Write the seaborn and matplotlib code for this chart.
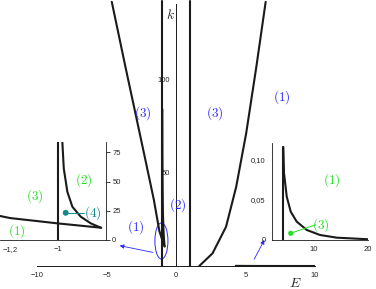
import matplotlib
matplotlib.use("Agg")
import matplotlib.pyplot as plt
from matplotlib.patches import Ellipse
import seaborn as sns

# branches of the curve k(E)
left_E = [-4.62, -3.64, -2.92, -2.2, -1.59, -1.2, -1.0, -0.82]
left_k = [141.3, 106.6, 81.7, 56.7, 35.3, 18.8, 14.2, 10.5]

steep_E = [-0.982, -0.976, -0.961, -0.940, -0.905, -0.863, -0.821]
steep_k = [83.9, 61.2, 41.2, 28.4, 19.9, 14.2, 10.5]

right_E = [1.67, 2.63, 3.6, 4.33, 5.05, 5.78, 6.45]
right_k = [0, 6.8, 21, 42.4, 71.1, 106.6, 141.3]

tail_E = [4.3, 4.43, 4.93, 5.67, 6.78, 8.64, 11.1, 14.2, 20]
tail_k = [0.1159, 0.0834, 0.0541, 0.0354, 0.0229, 0.0125, 0.00625, 0.0029, 0.0009]

vert_E = [-1, 1]
vert_top = 142
tail_vert_E = 4.3

# marked points
pt4_E, pt4_k = -0.968, 23.3
pt3_E, pt3_k = 5.67, 0.0084

BLUE = "#2a2aff"
GREEN = "#22e022"
TEAL = "#108a8a"

sns.set_theme(style="white")
plt.rcParams["font.family"] = ["Liberation Sans", "DejaVu Sans"]
plt.rcParams["mathtext.fontset"] = "cm"


def curve(ax, x, y, **kw):
    sns.lineplot(x=x, y=y, sort=False, estimator=None, color="k", lw=1.5, ax=ax, **kw)


def style_ticks(a):
    a.tick_params(which="both", direction="out", labelsize=5.5, width=0.6, color="k", pad=1.5)
    a.tick_params(which="major", length=3)
    a.tick_params(which="minor", length=2)
    a.set_xlabel("")
    a.set_ylabel("")


fig = plt.figure(figsize=(3.76, 2.89), dpi=100)

# ---- main axes
ax = fig.add_axes([0.0984, 0.073, 0.7394, 0.927])
ax.set_facecolor("none")
ax.set_xlim(-10, 10)
ax.set_ylim(-1, 142.3)
for s in ["top", "right"]:
    ax.spines[s].set_visible(False)
ax.spines["left"].set_position(("data", 0))
ax.spines["bottom"].set_position(("data", 0))
ax.spines["left"].set_bounds(0, 140)
for s in ["left", "bottom"]:
    ax.spines[s].set_linewidth(0.7)
    ax.spines[s].set_color("k")

curve(ax, left_E, left_k)
curve(ax, steep_E, steep_k)
curve(ax, right_E, right_k)
curve(ax, tail_E, tail_k)
for e in vert_E:
    curve(ax, [e, e], [0, vert_top])

ax.set_xticks([-10, -5, 0, 5, 10])
ax.set_xticklabels(["\u221210", "\u22125", "0", "5", "10"])
ax.set_xticks([-7.5, -2.5, 2.5, 7.5], minor=True)
ax.set_yticks([50, 100])
ax.set_yticks([v for v in range(10, 141, 10) if v not in (50, 100)], minor=True)
style_ticks(ax)

labels_main = [("(1)", 7.59, 90.5), ("(3)", 2.8, 81.6), ("(3)", -2.37, 81.6),
               ("(1)", -2.92, 21), ("(2)", 0.1, 32.6)]
for t, x, y in labels_main:
    ax.text(x, y, "$" + t + "$", color=BLUE, fontsize=9.5, ha="center", va="center")

ax.add_patch(Ellipse((-1.05, 13.4), 0.94, 19.3, fill=False, ec=BLUE, lw=0.7))
arrow = dict(arrowstyle="-|>", color=BLUE, lw=0.6, mutation_scale=6)
ax.annotate("", xy=(-4.25, 11.2), xytext=(-1.47, 7), arrowprops=arrow)
ax.annotate("", xy=(6.45, 15.3), xytext=(5.53, 2.3), arrowprops=arrow)

fig.text(170 / 376, 1 - 15 / 289, "$k$", fontsize=10, ha="center", va="center")
fig.text(295 / 376, 6 / 289, "$E$", fontsize=10, ha="center", va="center")

# ---- left inset
axl = fig.add_axes([0.0, 0.1696, 0.2819, 0.3391])
axl.set_facecolor("none")
axl.set_xlim(-1.242, -0.8)
axl.set_ylim(0, 84)
for s in ["top", "left"]:
    axl.spines[s].set_visible(False)
for s in ["right", "bottom"]:
    axl.spines[s].set_linewidth(0.6)
    axl.spines[s].set_color("k")
curve(axl, left_E, left_k)
curve(axl, steep_E, steep_k)
curve(axl, [-1, -1], [0, vert_top])
axl.plot([pt4_E, -0.89], [pt4_k, pt4_k], color=TEAL, lw=0.7)
sns.scatterplot(x=[pt4_E], y=[pt4_k], color=TEAL, s=18, edgecolor="none", ax=axl)
axl.text(-0.855, 23.3, "$(4)$", color=TEAL, fontsize=9.5, ha="center", va="center")
for t, x, y in [("(2)", -0.893, 51), ("(3)", -1.095, 37.5), ("(1)", -1.17, 7.7)]:
    axl.text(x, y, "$" + t + "$", color=GREEN, fontsize=9.5, ha="center", va="center")
axl.yaxis.tick_right()
axl.set_yticks([0, 25, 50, 75])
axl.set_yticklabels(["0", "25", "50", "75"])
axl.set_xticks([-1.2, -1.0])
axl.set_xticklabels(["\u22121,2", "\u22121"])
axl.set_xticks([-1.1, -0.9], minor=True)
style_ticks(axl)

# ---- right inset
axr = fig.add_axes([0.7234, 0.1696, 0.2553, 0.3356])
axr.set_facecolor("none")
axr.set_xlim(2.2, 20)
axr.set_ylim(0, 0.121)
for s in ["top", "right"]:
    axr.spines[s].set_visible(False)
for s in ["left", "bottom"]:
    axr.spines[s].set_linewidth(0.6)
    axr.spines[s].set_color("k")
curve(axr, tail_E, tail_k)
curve(axr, [tail_vert_E, tail_vert_E], [0, tail_k[0]])
axr.plot([pt3_E, 10.3], [pt3_k, 0.019], color=GREEN, lw=0.7)
sns.scatterplot(x=[pt3_E], y=[pt3_k], color=GREEN, s=14, edgecolor="none", ax=axr)
axr.text(11.3, 0.019, "$(3)$", color=GREEN, fontsize=9.5, ha="center", va="center")
axr.text(13.2, 0.075, "$(1)$", color=GREEN, fontsize=9.5, ha="center", va="center")
axr.set_yticks([0, 0.05, 0.10])
axr.set_yticklabels(["0", "0,05", "0,10"])
axr.set_yticks([0.025, 0.075], minor=True)
axr.set_xticks([10, 20])
axr.set_xticks([5, 15], minor=True)
style_ticks(axr)

fig.savefig("out.png", dpi=100)
